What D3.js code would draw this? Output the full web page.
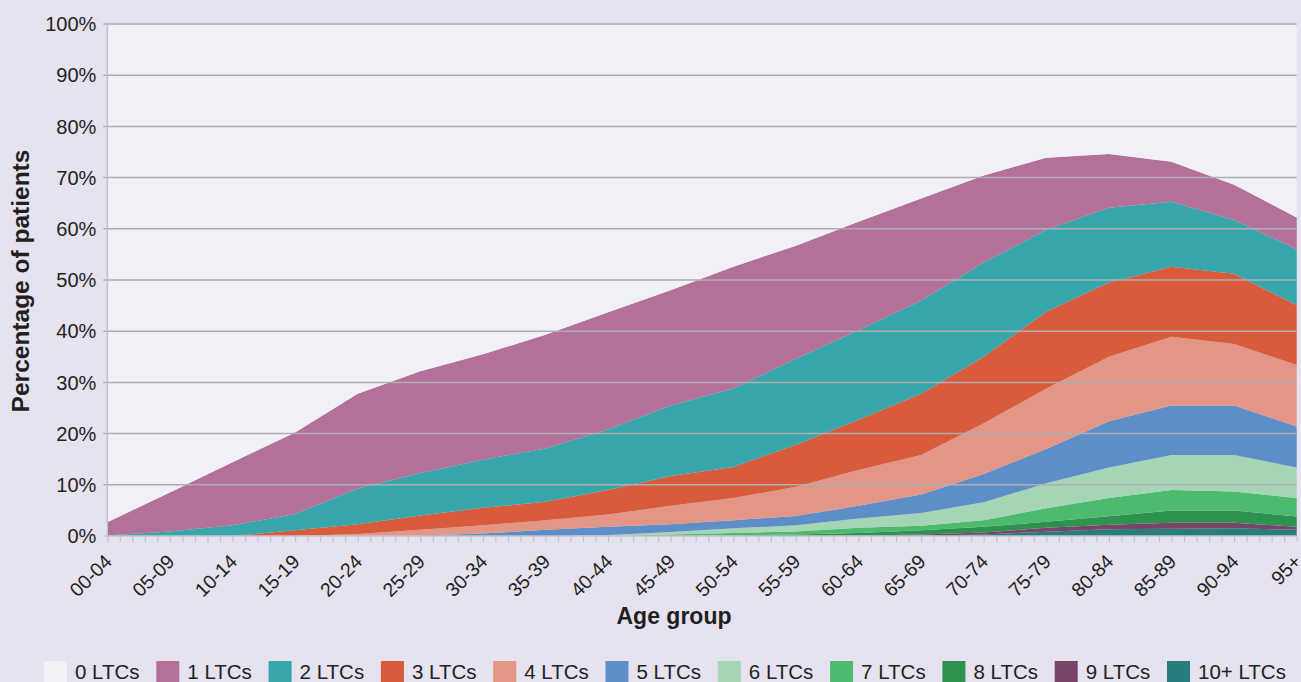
<html>
<head>
<script src="https://d3js.org/d3.v7.min.js"></script>
<style>
body { margin:0; background:#e6e2f0; }
text { font-family: "Liberation Sans", Arial, sans-serif; fill:#231f20; }
</style>
</head>
<body>
<script>
var width = 1301;
var height = 682;
var margin = {top:24, right:4.3, bottom:146, left:107.3};

// age (start of single-year band) and the 5-year group labels
var ages = [0,5,10,15,20,25,30,35,40,45,50,55,60,65,70,75,80,85,90,95];
var ageLabels = ["00-04","05-09","10-14","15-19","20-24","25-29","30-34","35-39","40-44","45-49",
                 "50-54","55-59","60-64","65-69","70-74","75-79","80-84","85-89","90-94","95+"];

// percentage of patients with n long term conditions
var ltc0  = [97.3,91.5,85.6,79.8,72.2,67.8,64.5,60.7,56.3,52.0,47.4,43.3,38.6,34.1,29.6,26.1,25.4,26.9,31.4,37.8];
var ltc1  = [2.6,7.6,12.3,15.9,18.5,19.9,20.6,22.2,22.9,22.5,23.8,22.1,21.2,19.9,17.0,14.1,10.5,7.8,6.9,6.2];
var ltc2  = [0.1,0.9,2.1,3.2,7.0,8.3,9.4,10.4,11.8,13.8,15.3,16.8,17.5,18.2,18.4,16.0,14.6,12.7,10.5,10.9];
var ltc3  = [0,0,0,1.1,1.9,2.8,3.4,3.6,4.8,5.8,6.1,8.2,9.8,12.0,13.0,15.0,14.5,13.7,13.7,11.7];
var ltc4  = [0,0,0,0,0.4,1.1,1.6,1.9,2.4,3.6,4.3,5.7,7.0,7.7,9.9,11.8,12.6,13.4,12.0,12.0];
var ltc5  = [0,0,0,0,0,0.1,0.5,1.2,1.6,1.5,1.6,1.8,2.5,3.6,5.5,6.7,9.0,9.7,9.7,8.0];
var ltc6  = [0,0,0,0,0,0,0,0,0.2,0.5,0.9,1.2,1.8,2.5,3.5,4.9,6.0,6.8,7.1,6.0];
var ltc7  = [0,0,0,0,0,0,0,0,0,0.3,0.5,0.6,1.0,0.9,1.3,2.6,3.55,4.0,3.7,3.6];
var ltc8  = [0,0,0,0,0,0,0,0,0,0,0.1,0.3,0.5,0.8,1.1,1.2,1.65,2.4,2.4,2.0];
var ltc9  = [0,0,0,0,0,0,0,0,0,0,0,0,0.1,0.2,0.4,0.75,0.9,1.2,1.1,0.6];
var ltc10 = [0,0,0,0,0,0,0,0,0,0,0,0,0,0.1,0.3,0.85,1.3,1.4,1.5,1.2];

var yTicks = [0,10,20,30,40,50,60,70,80,90,100];
var keys = ["0 LTCs","1 LTCs","2 LTCs","3 LTCs","4 LTCs","5 LTCs","6 LTCs","7 LTCs","8 LTCs","9 LTCs","10+ LTCs"];
var colors = ["#f1f0f6","#b37099","#36a6aa","#d85b3c","#e49686","#5e8ec8","#a4d5b4","#4dba6e","#2f9150","#7a4368","#277c7c"];
var series = [ltc0,ltc1,ltc2,ltc3,ltc4,ltc5,ltc6,ltc7,ltc8,ltc9,ltc10];

var rows = ages.map(function(a, i) {
  var r = {age: a};
  keys.forEach(function(k, j) { r[k] = series[j][i]; });
  return r;
});

var w = width - margin.left - margin.right;
var h = height - margin.top - margin.bottom;

var x = d3.scaleLinear().domain([0,95]).range([0,w]);
var y = d3.scaleLinear().domain([0,100]).range([h,0]);
var z = d3.scaleOrdinal().domain(keys).range(colors);

var svg = d3.select("body").append("svg")
    .attr("width", width)
    .attr("height", height)
    .style("display", "block")
    .style("background", "#e6e2f0");
var g = svg.append("g")
    .attr("transform", "translate(" + margin.left + "," + margin.top + ")");

// stack from 10+ at the bottom up to 0 LTCs at the top
var stacked = d3.stack().keys(keys.slice().reverse())(rows);

var area = d3.area()
    .x(function(d) { return x(d.data.age); })
    .y0(function(d) { return y(d[0]); })
    .y1(function(d) { return y(d[1]); });

g.append("g")
  .selectAll("path")
  .data(stacked)
  .enter().append("path")
    .attr("fill", function(d) { return z(d.key); })
    .attr("d", area);

// gridlines over the areas
g.append("g")
  .selectAll("line")
  .data(yTicks)
  .enter().append("line")
    .attr("x1", -4)
    .attr("x2", w)
    .attr("y1", function(d) { return y(d); })
    .attr("y2", function(d) { return y(d); })
    .attr("stroke", function(d) { return d == 0 ? "#c4c3cc" : "#aeadb4"; })
    .attr("stroke-width", 1.5);

g.append("line")
  .attr("x1", 0).attr("x2", 0)
  .attr("y1", 0).attr("y2", h)
  .attr("stroke", "#c4c3cc")
  .attr("stroke-width", 1.5);

g.append("g")
  .selectAll("text")
  .data(yTicks)
  .enter().append("text")
    .attr("x", -11)
    .attr("y", function(d) { return y(d); })
    .attr("dy", "0.36em")
    .attr("text-anchor", "end")
    .style("font-size", "20px")
    .text(function(d) { return d + "%"; });

// one small tick per year of age
var xAxis = d3.axisBottom(x)
    .tickValues(d3.range(0, 96))
    .tickSize(6)
    .tickFormat("");
var xa = g.append("g")
    .attr("transform", "translate(0," + h + ")")
    .call(xAxis);
xa.select(".domain").remove();
xa.selectAll("line").attr("stroke", "#c4c3cc").attr("stroke-width", 1.2);

g.append("g")
  .selectAll("text")
  .data(ages)
  .enter().append("text")
    .attr("transform", function(d) { return "translate(" + (x(d) + 1) + "," + (h + 22) + ") rotate(-45)"; })
    .attr("text-anchor", "end")
    .attr("dy", "0.35em")
    .style("font-size", "19.5px")
    .text(function(d, i) { return ageLabels[i]; });

svg.append("text")
  .attr("x", 674)
  .attr("y", 624)
  .attr("text-anchor", "middle")
  .style("font-size", "23px")
  .style("font-weight", "bold")
  .text("Age group");

svg.append("text")
  .attr("transform", "translate(29,281) rotate(-90)")
  .attr("text-anchor", "middle")
  .style("font-size", "24.5px")
  .style("font-weight", "bold")
  .text("Percentage of patients");

var legend = svg.append("g")
  .selectAll("g")
  .data(keys)
  .enter().append("g")
    .attr("transform", function(d, i) { return "translate(" + (44 + i * 112.3) + ",661)"; });
legend.append("rect")
  .attr("width", 23)
  .attr("height", 23)
  .attr("fill", z);
legend.append("text")
  .attr("x", 31)
  .attr("y", 18)
  .style("font-size", "20.5px")
  .text(function(d) { return d; });
</script>
</body>
</html>
